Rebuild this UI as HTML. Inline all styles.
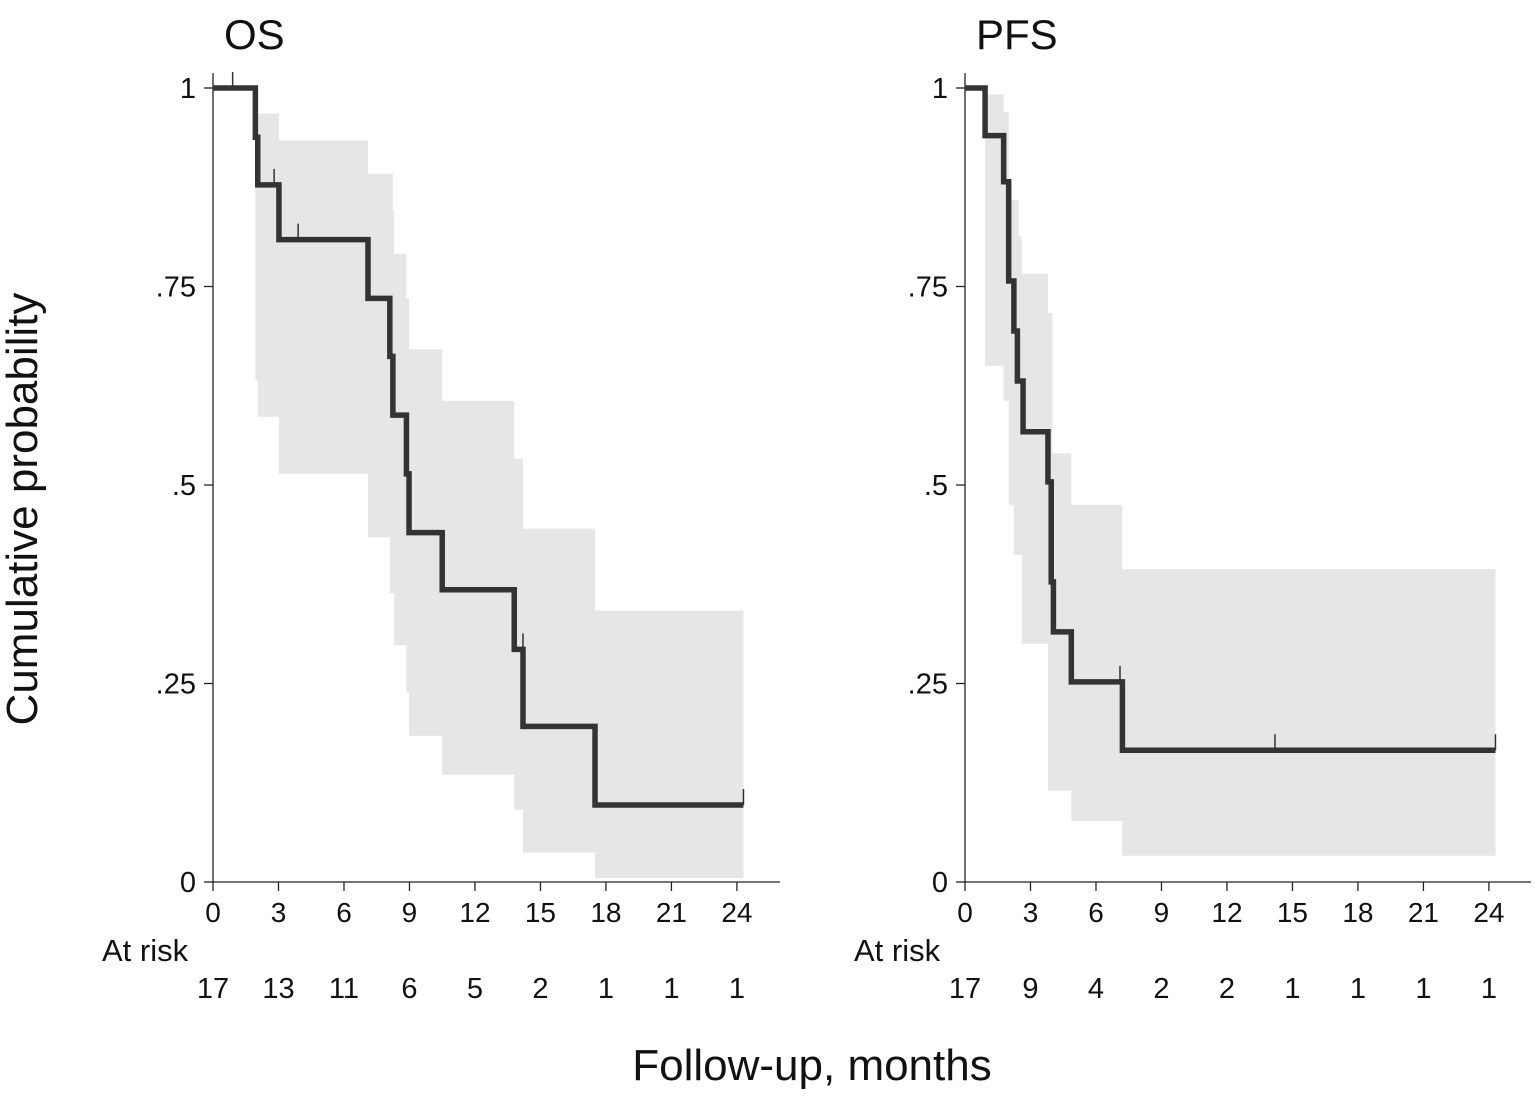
<!DOCTYPE html>
<html><head><meta charset="utf-8"><style>
body{margin:0;background:#fff}
svg text{font-family:"Liberation Sans",Arial,sans-serif;fill:#111}
</style></head><body>
<svg id="c" width="1535" height="1099" viewBox="0 0 1535 1099" xmlns="http://www.w3.org/2000/svg">
<text x="37" y="509" font-size="44" text-anchor="middle" transform="rotate(-90 37 509)">Cumulative probability</text>
<text x="812" y="1080" font-size="44" text-anchor="middle">Follow-up, months</text>
</svg>
<script>
// OS data
const osStepT = [0, 1.94, 2.05, 3.02, 7.1, 8.1, 8.24, 8.86, 8.98, 10.5, 13.8, 14.2, 17.5];
const osStepS = [1, 0.938, 0.878, 0.809, 0.735, 0.662, 0.588, 0.514, 0.44, 0.368, 0.293, 0.196, 0.097];
const osBandT = [1.94, 2.05, 2.24, 3.02, 7.1, 8.1, 8.24, 8.3, 8.86, 8.98, 10.5, 13.8, 14.2, 17.5];
const osBandU = [0.968, 0.968, 0.968, 0.934, 0.892, 0.892, 0.845, 0.791, 0.735, 0.671, 0.606, 0.533, 0.445, 0.342];
const osBandL = [0.632, 0.586, 0.586, 0.514, 0.434, 0.364, 0.364, 0.298, 0.239, 0.184, 0.135, 0.091, 0.037, 0.005];
const osEnd = 24.3;
const osCensT = [0.9, 2.8, 3.9, 14.2, 24.3];
const osCensS = [1, 0.878, 0.809, 0.293, 0.097];
const osRisk = [17, 13, 11, 6, 5, 2, 1, 1, 1];
// PFS data
const pfsStepT = [0, 0.92, 1.77, 2.0, 2.24, 2.4, 2.66, 3.8, 3.95, 4.05, 4.87, 7.21];
const pfsStepS = [1, 0.94, 0.882, 0.757, 0.694, 0.631, 0.567, 0.504, 0.378, 0.315, 0.252, 0.166];
const pfsBandT = [0.92, 1.77, 2.0, 2.24, 2.46, 2.6, 3.8, 4.0, 4.87, 7.2];
const pfsBandU = [0.992, 0.970, 0.859, 0.859, 0.813, 0.766, 0.717, 0.540, 0.475, 0.394];
const pfsBandL = [0.650, 0.606, 0.475, 0.412, 0.412, 0.300, 0.115, 0.115, 0.077, 0.033];
const pfsEnd = 24.3;
const pfsCensT = [7.1, 14.2, 24.3];
const pfsCensS = [0.252, 0.166, 0.166];
const pfsRisk = [17, 9, 4, 2, 2, 1, 1, 1, 1];
const xTicks = [0, 3, 6, 9, 12, 15, 18, 21, 24];
const yTicks = [0, 0.25, 0.5, 0.75, 1];
const yTickLabels = ["0", ".25", ".5", ".75", "1"];

const svg = document.getElementById('c');
const NS = 'http://www.w3.org/2000/svg';
function mk(tag, attrs, parent) {
  const e = document.createElementNS(NS, tag);
  for (const k in attrs) e.setAttribute(k, attrs[k]);
  (parent || svg).appendChild(e);
  return e;
}
function panel(name, x0, axisEnd, title, stepT, stepS, bT, bU, bL, end, cT, cS, risk) {
  const g = mk('g', {});
  
  
  const X = t => x0 + t * 21.83;
  const Y = s => 882 - s * 794;
  let up = '', lo = '';
  for (let i = 0; i < bT.length; i++) {
    const a = X(bT[i]), b = X(i + 1 < bT.length ? bT[i + 1] : end);
    up += (i ? 'L' : 'M') + a + ',' + Y(bU[i]) + 'L' + b + ',' + Y(bU[i]);
  }
  for (let i = bT.length - 1; i >= 0; i--) {
    const a = X(bT[i]), b = X(i + 1 < bT.length ? bT[i + 1] : end);
    lo += 'L' + b + ',' + Y(bL[i]) + 'L' + a + ',' + Y(bL[i]);
  }
  const band = mk('path', {d: up + lo + 'Z', fill: '#e6e6e6'}, g);
  
  
  const ax = mk('path', {d: `M${x0},73V882H${axisEnd}`, stroke: '#222', 'stroke-width': 1.3, fill: 'none'}, g);
  
  
  xTicks.forEach((t, i) => {
    mk('line', {x1: X(t), x2: X(t), y1: 882, y2: 891, stroke: '#222', 'stroke-width': 1.3}, g);
    const tl = mk('text', {x: X(t), y: 922, 'font-size': 28, 'text-anchor': 'middle'}, g);
    tl.textContent = t;
    
    
    const rl = mk('text', {x: X(t), y: 998, 'font-size': 29, 'text-anchor': 'middle'}, g);
    rl.textContent = risk[i];
    
    
  });
  yTicks.forEach((v, i) => {
    mk('line', {x1: x0 - 9, x2: x0, y1: Y(v), y2: Y(v), stroke: '#222', 'stroke-width': 1.3}, g);
    const yl = mk('text', {x: x0 - 17, y: Y(v) + 10, 'font-size': 29, 'text-anchor': 'end'}, g);
    yl.textContent = yTickLabels[i];
    
    
  });
  const ar = mk('text', {x: x0 - 111, y: 961, 'font-size': 31}, g);
  ar.textContent = 'At risk';
  
  
  const tt = mk('text', {x: x0 + 11, y: 49, 'font-size': 42}, g);
  tt.textContent = title;
  
  
  let d = 'M' + X(stepT[0]) + ',' + Y(stepS[0]);
  for (let i = 1; i < stepT.length; i++) d += 'H' + X(stepT[i]) + 'V' + Y(stepS[i]);
  d += 'H' + X(end);
  const c = mk('path', {d: d, stroke: '#333', 'stroke-width': 5.5, fill: 'none', 'stroke-linejoin': 'miter'}, g);
  
  
  cT.forEach((t, i) => {
    const m = mk('line', {x1: X(t), x2: X(t), y1: Y(cS[i]) - 16, y2: Y(cS[i]), stroke: '#333', 'stroke-width': 1.5}, g);
    
    
  });
}
panel('os', 213, 780, 'OS', osStepT, osStepS, osBandT, osBandU, osBandL, osEnd, osCensT, osCensS, osRisk);
panel('pfs', 965, 1531, 'PFS', pfsStepT, pfsStepS, pfsBandT, pfsBandU, pfsBandL, pfsEnd, pfsCensT, pfsCensS, pfsRisk);
</script>
</body></html>
